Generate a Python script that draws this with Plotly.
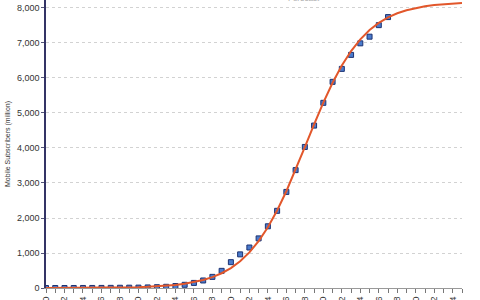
import plotly.graph_objects as go

# Actual mobile subscribers (million), 1980-2017
years_actual = list(range(1980, 2018))
subscribers = [0.02, 0.05, 0.1, 0.3, 0.6, 1, 2, 4, 7, 9,
               11, 16, 23, 34, 56, 91, 145, 215, 318, 490,
               738, 961, 1157, 1417, 1763, 2205, 2745, 3368, 4030, 4640,
               5290, 5890, 6260, 6660, 6990, 7180, 7510, 7740]

# Fitted / forecast curve (million), 1980-2025
years_fit = list(range(1980, 2026))
fit_values = [1.0, 1.4, 1.9, 2.7, 3.7, 5.0, 6.9, 9.5, 13.2, 18.1,
              24.9, 34.2, 47.1, 64.7, 88.8, 122, 167, 228, 311, 422,
              570, 765, 1017, 1338, 1736, 2213, 2765, 3378, 4024, 4674,
              5297, 5863, 6356, 6769, 7104, 7370, 7575, 7732, 7850, 7937,
              8002, 8050, 8085, 8111, 8130, 8143]

y_ticks = [0, 1000, 2000, 3000, 4000, 5000, 6000, 7000, 8000]
y_labels = ["0", "1,000", "2,000", "3,000", "4,000", "5,000", "6,000", "7,000", "8,000"]

fig = go.Figure()
fig.add_trace(go.Scatter(
    x=years_actual, y=subscribers, mode="markers",
    marker=dict(symbol="square", size=5, color="#4a7bcc",
                line=dict(color="#1c3272", width=1)),
    showlegend=False))
fig.add_trace(go.Scatter(
    x=years_fit, y=fit_values, mode="lines",
    line=dict(color="#e2572b", width=2), showlegend=False))

fig.add_annotation(text="Forecast", x=0.62, y=1.0, xref="paper", yref="paper",
                   yanchor="bottom", yshift=-5, showarrow=False,
                   font=dict(size=8, color="#aaaaaa", family="Arial"))

fig.update_layout(
    width=480, height=300,
    margin=dict(l=46, r=18, t=0, b=12, autoexpand=False),
    plot_bgcolor="white", paper_bgcolor="white",
    font=dict(family="Liberation Sans, Arial", color="#333333"),
    xaxis=dict(range=[1980, 2025], dtick=2, tick0=1980, tickangle=-90,
               ticks="outside", ticklen=4, tickcolor="#777777",
               tickfont=dict(size=9, color="#333333"),
               showline=True, linecolor="#999999", linewidth=1,
               showgrid=False, zeroline=False, automargin=False,
               minor=dict(dtick=1, ticks="outside", ticklen=4, tickcolor="#777777")),
    yaxis=dict(range=[0, 8228], tickvals=y_ticks, ticktext=y_labels,
               ticks="outside", ticklen=3, tickcolor="#555577",
               tickfont=dict(size=9, color="#333333"),
               showline=True, linecolor="#343466", linewidth=1.5,
               showgrid=True, gridcolor="#d2d2d2", griddash="dot", gridwidth=1,
               zeroline=False, automargin=False,
               title=dict(text="Mobile Subscribers (million)", standoff=5,
                          font=dict(size=7, color="#333333"))),
)

fig.write_html("out.html")
